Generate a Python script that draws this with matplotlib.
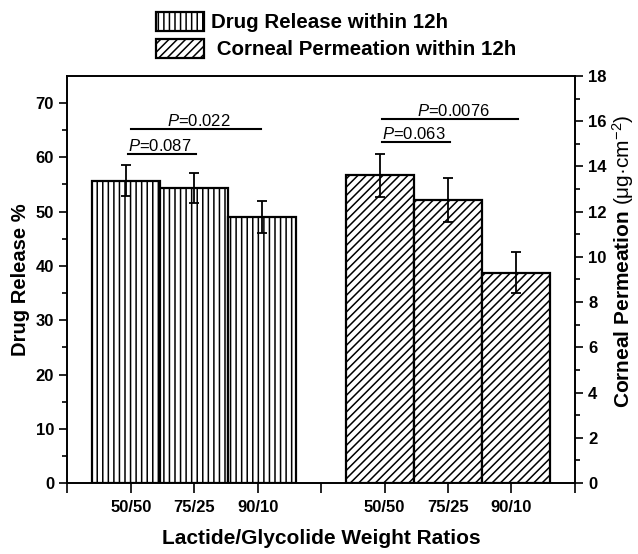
import matplotlib
matplotlib.use('Agg')
import matplotlib.pyplot as plt

# data
ratios = ['50/50', '75/25', '90/10']
release = [55.7, 54.4, 49.0]
release_err = [2.9, 2.75, 2.9]
permeation = [13.6, 12.5, 9.3]
permeation_err = [0.96, 0.97, 0.91]

plt.rcParams['font.family'] = 'Liberation Sans'
plt.rcParams['hatch.linewidth'] = 1.1
plt.rcParams['mathtext.fontset'] = 'custom'
plt.rcParams['mathtext.rm'] = 'Liberation Sans'
plt.rcParams['mathtext.it'] = 'Liberation Sans:italic'
plt.rcParams['mathtext.bf'] = 'Liberation Sans:bold'

fig = plt.figure(figsize=(6.38, 5.54), dpi=100)
ax = fig.add_axes([0.1055, 0.128, 0.7955, 0.735])
ax2 = ax.twinx()

w = 1.07
x1 = [2 - w, 2, 2 + w]
x2 = [6 - w, 6, 6 + w]

b1 = ax.bar(x1, release, width=w, color='white', edgecolor='black',
            linewidth=1.6, hatch='|||', zorder=2)
ax.errorbar(x1, release, yerr=release_err, fmt='none', ecolor='black',
            elinewidth=1.3, capsize=3.5, capthick=1.3, zorder=3)
b2 = ax2.bar(x2, permeation, width=w, color='white', edgecolor='black',
             linewidth=1.6, hatch='////', zorder=2)
ax2.errorbar(x2, permeation, yerr=permeation_err, fmt='none', ecolor='black',
             elinewidth=1.3, capsize=3.5, capthick=1.3, zorder=3)

ax.set_xlim(0, 8)
ax.set_ylim(0, 75)
ax2.set_ylim(0, 18)

ax.set_xticks(range(9))
ax.set_xticklabels(['', *ratios, '', *ratios, ''])
ax.set_yticks(range(0, 71, 10))
ax.set_yticks(range(5, 75, 10), minor=True)
ax2.set_yticks(range(0, 19, 2))
ax2.set_yticks(range(1, 18, 2), minor=True)

for a in (ax, ax2):
    a.tick_params(which='major', length=6, width=1.2, labelsize=12)
    a.tick_params(which='minor', length=3.5, width=1.2)
    for s in a.spines.values():
        s.set_linewidth(1.2)
ax.tick_params(axis='x', length=7, pad=5)
for lbl in ax.get_xticklabels() + ax.get_yticklabels() + ax2.get_yticklabels():
    lbl.set_fontweight('bold')

ax.set_ylabel('Drug Release %', fontsize=14.5, fontweight='bold', labelpad=4)
ax.set_xlabel('Lactide/Glycolide Weight Ratios', fontsize=15,
              fontweight='bold', labelpad=10)
ax2.set_ylabel(r'$\mathbf{Corneal\ Permeation}$ (μg·cm$^{-2}$)', fontsize=15,
               labelpad=5)
ax2.yaxis.set_label_coords(1.07, 0.545)

# significance brackets
def sig(a, xa, xb, y, txt, ha):
    a.plot([xa, xb], [y, y], color='black', lw=1.5, zorder=3)
    xt = xa if ha == 'left' else (xa + xb) / 2 + 0.05
    a.text(xt, y, txt, ha=ha, va='bottom', fontsize=12)

sig(ax, 1, 3.05, 65.3, r'$P$=0.022', 'center')
sig(ax, 0.96, 2.03, 60.6, r'$P$=0.087', 'left')
sig(ax2, 4.96, 7.1, 16.1, r'$P$=0.0076', 'center')
sig(ax2, 4.96, 6.03, 15.06, r'$P$=0.063', 'left')

fig.legend([b1, b2], ['Drug Release within 12h', ' Corneal Permeation within 12h'],
           loc='upper left', bbox_to_anchor=(0.244, 0.978), frameon=False,
           prop={'weight': 'bold', 'size': 14.8}, handlelength=2.35,
           handleheight=1.0, handletextpad=0.36, labelspacing=0.33,
           borderpad=0, borderaxespad=0)

fig.savefig('out.png', dpi=100)
